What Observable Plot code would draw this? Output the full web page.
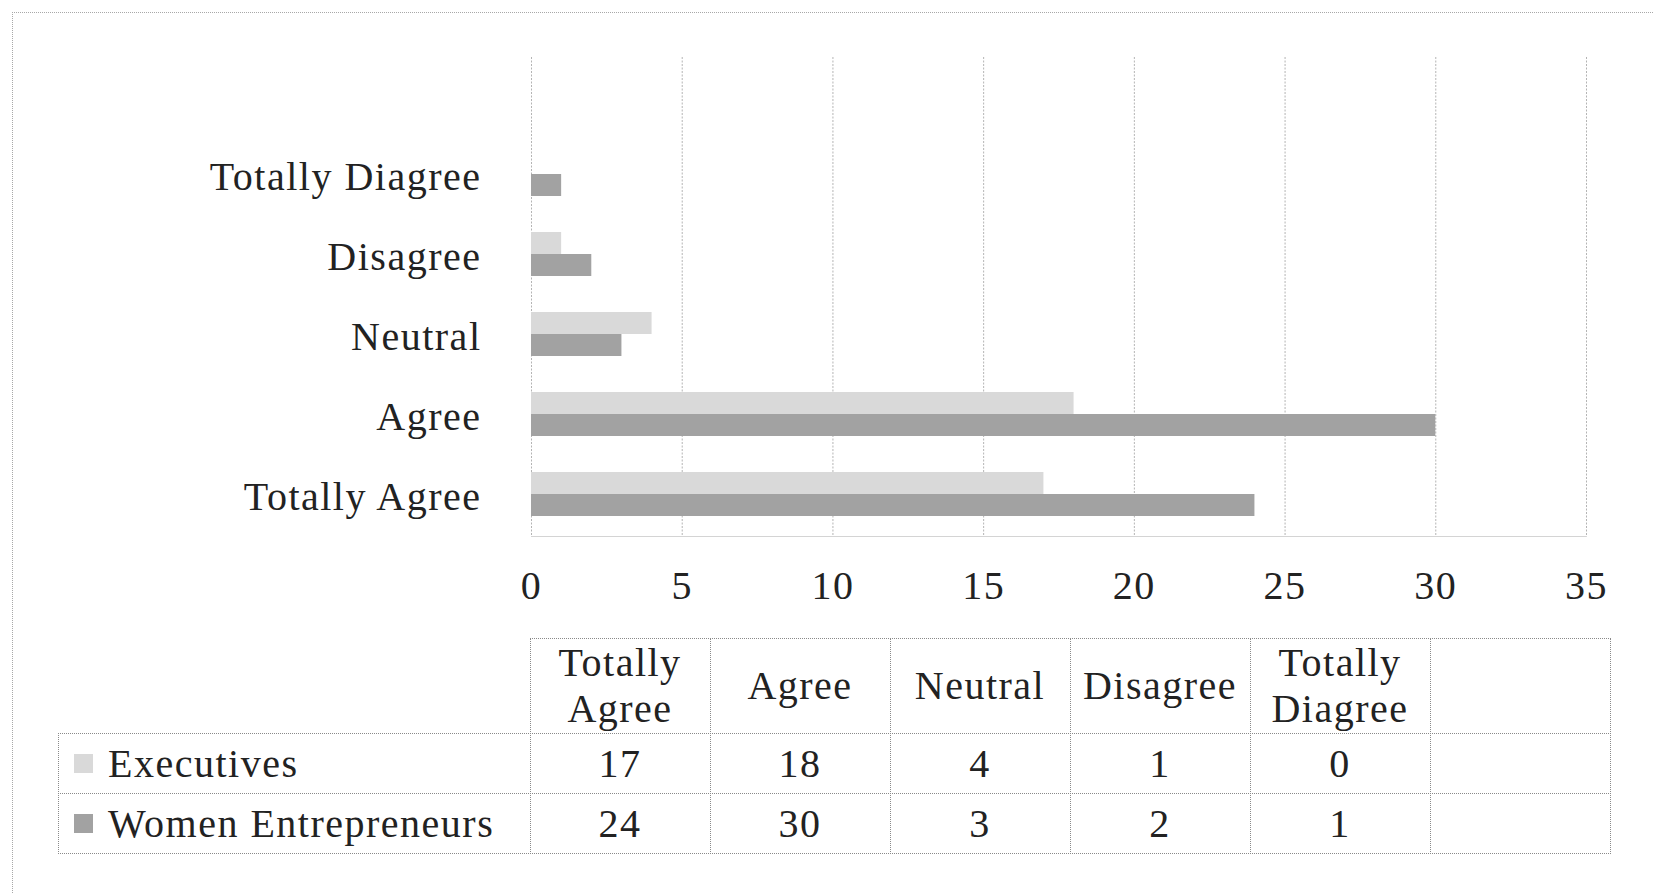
<!DOCTYPE html>
<html>
<head>
<meta charset="utf-8">
<script src="https://cdn.jsdelivr.net/npm/d3@7"></script>
<script src="https://cdn.jsdelivr.net/npm/@observablehq/plot@0.6"></script>
<style>
  html, body { margin: 0; padding: 0; background: #fff; }
  #wrap { position: relative; width: 1654px; height: 893px; overflow: hidden; background: #fff;
          font-family: "Liberation Serif", "Times New Roman", serif; color: #222; }
  #outer { position: absolute; left: 12px; top: 12px; width: 1700px; height: 900px;
           border-top: 1px dotted #a8a8a8; border-left: 1px dotted #a8a8a8; }
  #chart { position: absolute; left: 0; top: 0; }
  #tbl { position: absolute; left: 0; top: 0; width: 1654px; height: 893px; }
  .cell { position: absolute; box-sizing: border-box; display: flex; align-items: center; justify-content: center;
          font-size: 40px; letter-spacing: 1.5px; line-height: 46px; text-align: center; color: #222; }
  .bordered { border: 1px dotted #8a8a8a; }
  .lab { justify-content: flex-start; padding-left: 15px; }
  .sw { display: inline-block; width: 19px; height: 19px; margin-right: 15px; }
</style>
</head>
<body>
<div id="wrap">
  <div id="outer"></div>
  <div id="chart"></div>
  <div id="tbl"></div>
</div>
<script>
// ---- data ----
const categories = ["Totally Agree", "Agree", "Neutral", "Disagree", "Totally Diagree"];
const tableHeaders = ["Totally\nAgree", "Agree", "Neutral", "Disagree", "Totally\nDiagree"];
const seriesNames = ["Executives", "Women Entrepreneurs"];
const executives = [17, 18, 4, 1, 0];
const womenEntrepreneurs = [24, 30, 3, 2, 1];
const xTicks = [0, 5, 10, 15, 20, 25, 30, 35];
const seriesColors = ["#d9d9d9", "#a2a2a2"];

// ---- chart ----
const rows = categories.map((c, i) => ({cat: c, exec: executives[i], women: womenEntrepreneurs[i]}));
const yDomain = [""].concat(categories.slice().reverse());

const chart = Plot.plot({
  width: 1654,
  height: 620,
  marginLeft: 531,
  marginRight: 68,
  marginTop: 57,
  marginBottom: 83,
  style: {fontFamily: "'Liberation Serif', 'Times New Roman', serif", fontSize: "40px", color: "#222", background: "transparent", letterSpacing: "1.5px"},
  x: {domain: [0, 35], ticks: xTicks, tickSize: 0, tickPadding: 33, label: null, tickFormat: d => String(d)},
  y: {domain: yDomain, padding: 0, tickSize: 0, tickPadding: 50, label: null},
  marks: [
    Plot.ruleX(xTicks, {stroke: "#b4b4b4", strokeDasharray: "2,1.5"}),
    Plot.barX([{}], {x1: 0, x2: 35, y: () => "Totally Agree", insetTop: 79, insetBottom: 0, fill: "#d4d4d4"}),
    Plot.barX(rows, {x: "exec", y: "cat", fill: seriesColors[0], insetTop: 15, insetBottom: 43}),
    Plot.barX(rows, {x: "women", y: "cat", fill: seriesColors[1], insetTop: 37, insetBottom: 21})
  ]
});
document.getElementById("chart").appendChild(chart);

// ---- data table ----
const tbl = document.getElementById("tbl");
const colLeft = 529.5, colW = 180, labelLeft = 58;
const rowTops = [638, 733, 793], rowHeights = [95, 60, 60];
function cell(x, y, w, h, html, cls) {
  const d = document.createElement("div");
  d.className = "cell " + (cls || "");
  d.style.left = x + "px"; d.style.top = y + "px";
  d.style.width = (w + 1) + "px"; d.style.height = (h + 1) + "px";
  d.innerHTML = html;
  tbl.appendChild(d);
}
const headers = tableHeaders.concat([""]);
headers.forEach((h, i) => cell(colLeft + i * colW, rowTops[0], colW, rowHeights[0], h.replace("\n", "<br>"), "bordered"));
const seriesVals = [executives, womenEntrepreneurs];
seriesNames.forEach((name, r) => {
  cell(labelLeft, rowTops[r + 1], colLeft - labelLeft, rowHeights[r + 1],
       `<span class="sw" style="background:${seriesColors[r]}"></span>${name}`, "bordered lab");
  for (let i = 0; i < 6; i++) {
    const v = i < seriesVals[r].length ? String(seriesVals[r][i]) : "";
    cell(colLeft + i * colW, rowTops[r + 1], colW, rowHeights[r + 1], v, "bordered");
  }
});
</script>
</body>
</html>
